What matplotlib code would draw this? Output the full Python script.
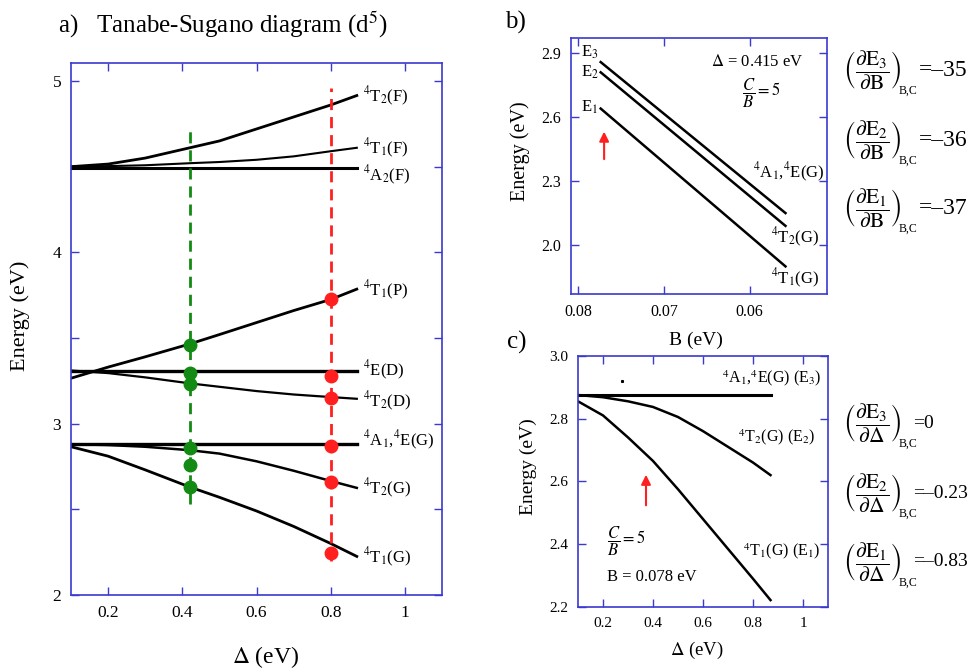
import matplotlib
matplotlib.use('Agg')
import matplotlib.pyplot as plt
import numpy as np

plt.rcParams['font.family'] = ['Liberation Serif', 'DejaVu Serif']
plt.rcParams['mathtext.fontset'] = 'stix'

# %% Data, panel a (Tanabe-Sugano d5)
delta_a = [0.1, 0.2, 0.3, 0.42, 0.5, 0.6, 0.7, 0.8, 0.87]
t2_f = [4.50, 4.515, 4.55, 4.61, 4.65, 4.72, 4.79, 4.86, 4.915]
t1_f = [4.50, 4.503, 4.508, 4.52, 4.527, 4.54, 4.56, 4.59, 4.61]
a2_f = [4.49] * 9
t1_p = [3.265, 3.33, 3.39, 3.465, 3.52, 3.59, 3.66, 3.725, 3.785]
e_d = [3.31] * 9
t2_d = [3.31, 3.295, 3.27, 3.235, 3.215, 3.19, 3.17, 3.155, 3.145]
a1e_g = [2.88] * 9
t2_g = [2.88, 2.875, 2.865, 2.845, 2.825, 2.78, 2.725, 2.665, 2.625]
t1_g = [2.865, 2.81, 2.73, 2.63, 2.57, 2.49, 2.40, 2.30, 2.225]

green_x = 0.42
green_pts = [3.46, 3.295, 3.23, 2.855, 2.76, 2.63]
red_x = 0.80
red_pts = [3.725, 3.28, 3.15, 2.87, 2.66, 2.245]

labels_a = [r'$^4$T$_2$(F)', r'$^4$T$_1$(F)', r'$^4$A$_2$(F)', r'$^4$T$_1$(P)',
            r'$^4$E(D)', r'$^4$T$_2$(D)', r'$^4$A$_1$,$^4$E(G)', r'$^4$T$_2$(G)',
            r'$^4$T$_1$(G)']
label_y_a = [4.91, 4.605, 4.45, 3.78, 3.31, 3.13, 2.90, 2.62, 2.22]

# %% Data, panel b
b_vals = [0.0774, 0.0558]
e3_b = [2.858, 2.15]
e2_b = [2.81, 2.09]
e1_b = [2.64, 1.90]

# %% Data, panel c
delta_c = [0.1, 0.2, 0.3, 0.4, 0.5, 0.6, 0.7, 0.8, 0.87]
e3_c = [2.876] * 9
e2_c = [2.875, 2.868, 2.855, 2.837, 2.805, 2.76, 2.71, 2.66, 2.62]
e1_c = [2.855, 2.81, 2.74, 2.665, 2.575, 2.48, 2.385, 2.29, 2.222]

# derivative values
deriv_b_vals = ['=–35', '=–36', '=–37']
deriv_c_vals = ['=0', '=–0.23', '=–0.83']

blue = '#3a3ad0'
green = '#138a13'
red = '#ff1f1f'


def style_axes(ax, size):
    for sp in ax.spines.values():
        sp.set_color(blue)
        sp.set_linewidth(1.2)
    ax.tick_params(direction='in', length=6, width=1.0, color=blue,
                   top=True, right=True, labelsize=size, pad=7)


fig = plt.figure(figsize=(9.69, 6.70), dpi=100)

# %% Panel a
ax = fig.add_axes([0.0733, 0.112, 0.383, 0.794])
style_axes(ax, 12.5)
curves = [t2_f, t1_f, a2_f, t1_p, e_d, t2_d, a1e_g, t2_g, t1_g]
widths = [2.0, 1.5, 2.2, 2.0, 2.4, 1.6, 2.4, 1.8, 2.0]
for c, w in zip(curves, widths):
    ax.plot(delta_a, c, color='black', lw=w)
ax.plot([green_x, green_x], [2.53, 4.73], color=green, lw=2, ls=(0, (4, 2.5)))
ax.plot([red_x, red_x], [2.2, 4.96], color=red, lw=2, ls=(0, (4, 2.5)))
ax.plot([green_x] * len(green_pts), green_pts, 'o', color=green, ms=9)
ax.plot([red_x] * len(red_pts), red_pts, 'o', color=red, ms=9)
for lab, y in zip(labels_a, label_y_a):
    ax.text(0.886, y, lab, fontsize=12, va='center', ha='left')
ax.set_xlim(0.1, 1.1)
ax.set_ylim(2.0, 5.105)
ax.set_xticks([0.2, 0.4, 0.6, 0.8, 1.0])
ax.set_xticklabels(['0.2', '0.4', '0.6', '0.8', '1'])
ax.set_yticks(np.arange(2.0, 5.01, 0.5))
ax.set_yticklabels(['2', '', '3', '', '4', '', '5'])
ax.set_ylabel('Energy (eV)', fontsize=16)
ax.yaxis.set_label_coords(-0.11, 0.524)
ax.set_xlabel(r'$\Delta$ (eV)', fontsize=17)
ax.xaxis.set_label_coords(0.523, -0.092)
fig.text(0.06, 0.963, r'a)   Tanabe-Sugano diagram (d$^5$)', fontsize=18,
         va='center', ha='left')

# %% Panel b
bx = fig.add_axes([0.589, 0.561, 0.264, 0.382])
style_axes(bx, 11.5)
for c in [e3_b, e2_b, e1_b]:
    bx.plot(b_vals, c, color='black', lw=1.8)
bx.set_xlim(0.0809, 0.051)
bx.set_ylim(1.77, 2.97)
bx.set_xticks([0.08, 0.07, 0.06])
bx.set_xticklabels(['0.08', '0.07', '0.06'])
bx.set_yticks([2.0, 2.3, 2.6, 2.9])
bx.set_yticklabels(['2.0', '2.3', '2.6', '2.9'])
bx.annotate('', xy=(0.0770, 2.545), xytext=(0.0770, 2.39),
            arrowprops=dict(arrowstyle='-|>', color=red, lw=1.5,
                            mutation_scale=14))
bx.text(0.0797, 2.905, r'E$_3$', fontsize=12, va='center', ha='left')
bx.text(0.0797, 2.81, r'E$_2$', fontsize=12, va='center', ha='left')
bx.text(0.0797, 2.647, r'E$_1$', fontsize=12, va='center', ha='left')
bx.text(0.0591, 2.858, r'$\Delta$ = 0.415 eV', fontsize=12, va='center', ha='center')
bx.text(0.0586, 2.71, r'$\dfrac{C}{B}=5$', fontsize=12, va='center', ha='center')
bx.text(0.05965, 2.342, r'$^4$A$_1$,$^4$E(G)', fontsize=12, va='center', ha='left')
bx.text(0.05754, 2.037, r'$^4$T$_2$(G)', fontsize=12, va='center', ha='left')
bx.text(0.05754, 1.845, r'$^4$T$_1$(G)', fontsize=12, va='center', ha='left')
bx.set_ylabel('Energy (eV)', fontsize=14.5)
bx.yaxis.set_label_coords(-0.16, 0.56)
bx.set_xlabel('B (eV)', fontsize=14)
bx.xaxis.set_label_coords(0.49, -0.145)
fig.text(0.521, 0.967, 'b)', fontsize=18, va='center', ha='left')

# %% Panel c
cx = fig.add_axes([0.5965, 0.094, 0.258, 0.375])
style_axes(cx, 11)
cx.plot(delta_c, e3_c, color='black', lw=2.2)
cx.plot(delta_c, e2_c, color='black', lw=1.8)
cx.plot(delta_c, e1_c, color='black', lw=1.8)
cx.plot([0.276], [2.92], 's', color='black', ms=1.2)
cx.set_xlim(0.1, 1.1)
cx.set_ylim(2.2, 3.0)
cx.set_xticks([0.2, 0.4, 0.6, 0.8, 1.0])
cx.set_xticklabels(['0.2', '0.4', '0.6', '0.8', '1'])
cx.set_yticks([2.2, 2.4, 2.6, 2.8, 3.0])
cx.set_yticklabels(['2.2', '2.4', '2.6', '2.8', '3.0'])
cx.annotate('', xy=(0.372, 2.63), xytext=(0.372, 2.515),
            arrowprops=dict(arrowstyle='-|>', color=red, lw=1.5,
                            mutation_scale=14))
cx.text(0.676, 2.93, r'$^4$A$_1$,$^4$E(G) (E$_3$)', fontsize=11.5, va='center', ha='left')
cx.text(0.74, 2.742, r'$^4$T$_2$(G) (E$_2$)', fontsize=11.5, va='center', ha='left')
cx.text(0.76, 2.378, r'$^4$T$_1$(G) (E$_1$)', fontsize=11.5, va='center', ha='left')
cx.text(0.216, 2.41, r'$\dfrac{C}{B}=5$', fontsize=12, va='center', ha='left')
cx.text(0.216, 2.296, 'B = 0.078 eV', fontsize=12, va='center', ha='left')
cx.set_ylabel('Energy (eV)', fontsize=14)
cx.yaxis.set_label_coords(-0.164, 0.56)
cx.set_xlabel(r'$\Delta$ (eV)', fontsize=13.5)
cx.xaxis.set_label_coords(0.476, -0.131)
fig.text(0.523, 0.489, 'c)', fontsize=18, va='center', ha='left')

# %% Derivative formulas
for i, (v, ypx) in enumerate(zip(deriv_b_vals, [70, 140, 208])):
    n = 3 - i
    fig.text(843 / 969, 1 - ypx / 670,
             r'$\left(\dfrac{\partial \mathrm{E}_%d}{\partial \mathrm{B}}\right)$' % n,
             fontsize=15.5, va='center', ha='left')
    fig.text(899 / 969, 1 - (ypx + 21) / 670, 'B,C', fontsize=8.5,
             va='center', ha='left')
    fig.text(919 / 969, 1 - ypx / 670, v, fontsize=17, va='center', ha='left')

for i, (v, ypx) in enumerate(zip(deriv_c_vals, [423, 493, 562])):
    n = 3 - i
    fig.text(843 / 969, 1 - ypx / 670,
             r'$\left(\dfrac{\partial \mathrm{E}_%d}{\partial \Delta}\right)$' % n,
             fontsize=15.5, va='center', ha='left')
    fig.text(899 / 969, 1 - (ypx + 21) / 670, 'B,C', fontsize=8.5,
             va='center', ha='left')
    fig.text(913 / 969, 1 - ypx / 670, v, fontsize=14, va='center', ha='left')

fig.savefig('out.png', dpi=100)
